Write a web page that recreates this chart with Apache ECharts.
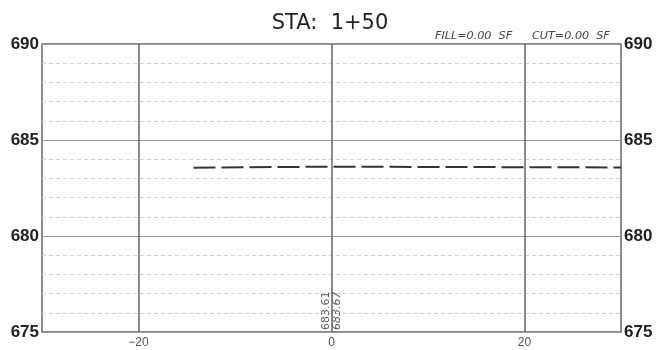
<!DOCTYPE html>
<html>
<head>
<meta charset="utf-8">
<script src="https://cdn.jsdelivr.net/npm/echarts@6/dist/echarts.min.js"></script>
<style>
  html, body { margin: 0; padding: 0; background: #fff; }
  #chart { width: 660px; height: 350px; }
</style>
</head>
<body>
<div id="chart"></div>
<script>
// station and quantities
const station = 'STA:  1+50'
const fillText = 'FILL=0.00  SF'
const cutText = 'CUT=0.00  SF'

// ground profile (offset, elevation)
const groundX = [-14.3, 0, 30]
const groundY = [683.56, 683.61, 683.57]

// centerline elevations
const clOffset = 0
const existingElev = '683.61'
const proposedElev = '683.67'

// axes
const xMin = -30, xMax = 30
const yMin = 675, yMax = 690
const xGrid = [-20, 0, 20]

const chart = echarts.init(document.getElementById('chart'))

const option = {
  animation: false,
  title: [
    {
      text: station, left: 'center', top: 8,
      textStyle: { fontFamily: 'DejaVu Sans', fontSize: 21, fontWeight: 'normal', color: '#222' }
    },
    {
      text: fillText, left: 430, top: 26,
      textStyle: { fontFamily: 'DejaVu Sans', fontStyle: 'italic', fontSize: 11.2, fontWeight: 'normal', color: '#444' }
    },
    {
      text: cutText, left: 527, top: 26,
      textStyle: { fontFamily: 'DejaVu Sans', fontStyle: 'italic', fontSize: 11.2, fontWeight: 'normal', color: '#444' }
    }
  ],
  grid: {
    left: 42, right: 39, top: 44, bottom: 18,
    show: true, borderColor: '#666', borderWidth: 1.5
  },
  xAxis: {
    type: 'value', min: xMin, max: xMax, interval: 10,
    axisLine: { show: false },
    axisTick: { show: false },
    splitLine: { show: false },
    axisLabel: {
      margin: 5, fontFamily: 'Liberation Sans', fontSize: 12, color: '#555',
      formatter: v => (xGrid.indexOf(v) >= 0 ? String(v).replace('-', '\u2212') : '')
    }
  },
  yAxis: [
    {
      type: 'value', min: yMin, max: yMax, interval: 5,
      axisLine: { show: false },
      axisTick: { show: false },
      axisLabel: { margin: 3, fontFamily: 'Liberation Sans', fontSize: 17, fontWeight: 'bold', color: '#222' },
      splitLine: { show: true, lineStyle: { color: '#999', width: 1 } },
      minorTick: { show: false, splitNumber: 5 },
      minorSplitLine: { show: true, lineStyle: { color: '#d2d2d2', width: 1, type: [4, 3] } }
    },
    {
      type: 'value', min: yMin, max: yMax, interval: 5, position: 'right',
      axisLine: { show: false },
      axisTick: { show: false },
      splitLine: { show: false },
      axisLabel: { margin: 3, fontFamily: 'Liberation Sans', fontSize: 17, fontWeight: 'bold', color: '#222' }
    }
  ],
  series: [
    {
      type: 'line',
      data: groundX.map((x, i) => [x, groundY[i]]),
      symbol: 'none',
      lineStyle: { color: '#333', width: 2, type: [22, 6] },
      markLine: {
        silent: true, symbol: 'none', label: { show: false },
        lineStyle: { color: '#666', width: 1.5, type: 'solid' },
        data: xGrid.map(x => ({ xAxis: x }))
      }
    },
    {
      type: 'scatter',
      symbolSize: 0,
      data: [[clOffset, yMin]],
      label: {
        show: true, position: 'top', distance: 2, rotate: 90,
        align: 'left', verticalAlign: 'bottom',
        fontFamily: 'DejaVu Sans', fontSize: 11, color: '#333',
        formatter: existingElev
      }
    },
    {
      type: 'scatter',
      symbolSize: 0,
      data: [[clOffset, yMin]],
      label: {
        show: true, position: 'top', distance: 2, rotate: 90,
        align: 'left', verticalAlign: 'top',
        fontFamily: 'DejaVu Sans', fontStyle: 'italic', fontSize: 11, color: '#333',
        formatter: proposedElev
      }
    }
  ]
}

chart.setOption(option)
</script>
</body>
</html>
